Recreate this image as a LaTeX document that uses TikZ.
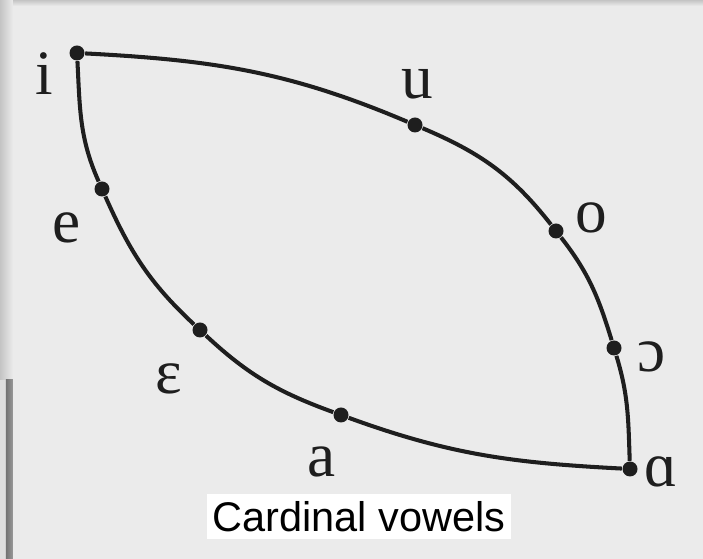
\documentclass[tikz,border=0pt]{standalone}
\usepackage{fontspec}
\setmainfont{Liberation Serif}
\newfontfamily\captionfont{Liberation Sans}
\usetikzlibrary{calc,positioning}
\definecolor{paper}{HTML}{EBEBEB}
\definecolor{shade}{HTML}{C4C4C4}
\definecolor{ink}{HTML}{1E1E1E}

\begin{document}
\begin{tikzpicture}[thick,
    vdot/.style={circle, fill=ink, inner sep=0pt, minimum size=0.3cm},
    vlabel/.style={font=\fontsize{36}{40}\selectfont, text=ink, inner sep=0pt},
    vline/.style={draw=ink, line width=2.3pt}]
    % scanned page background
    \fill[paper] (0,0) rectangle (14.06,11.18);
    \shade[top color=shade, bottom color=paper] (0,11.06) rectangle (14.06,11.18);
    \shade[left color=shade, right color=paper] (0,3.58) rectangle (0.26,11.18);
    \fill[black!13] (0,0) rectangle (0.12,3.58);
    \shade[left color=black!55, right color=black!40] (0.12,0) rectangle (0.26,3.58);
    \useasboundingbox (0,0) rectangle (14.06,11.18);
    % vowel points and labels
    \foreach \n/\p/\l/\q in {i/{1.54,10.12}/i/{0.88,9.70},
                             u/{8.30,8.68}/u/{8.34,9.50},
                             o/{11.12,6.56}/o/{11.82,6.82},
                             oo/{12.28,4.22}/ɔ/{13.04,4.04},
                             aa/{12.60,1.80}/ɑ/{13.22,1.74},
                             a/{6.82,2.88}/a/{6.44,1.94},
                             ee/{4.00,4.58}/ɛ/{3.38,3.60},
                             e/{2.04,7.40}/e/{1.34,6.62}} {
        \node[vdot] (\n) at (\p) {};
        \node[vlabel] (\n-lab) at (\q) {\l};
    }
    % front and back edges
    \draw[vline] (i) to[out=-3,in=157] (u) to[out=-23,in=128] (o)
        to[out=-52,in=107] (oo) to[out=-73,in=92] (aa);
    \draw[vline] (i) to[out=-87,in=114] (e) to[out=-66,in=137] (ee)
        to[out=-43,in=160] (a) to[out=-20,in=177] (aa);
    \node[fill=white, inner xsep=0.12cm, inner ysep=0.15cm,
          font=\captionfont\fontsize{23.6}{28}\selectfont] (title) at (7.18,0.85) {Cardinal vowels};
\end{tikzpicture}
\end{document}
